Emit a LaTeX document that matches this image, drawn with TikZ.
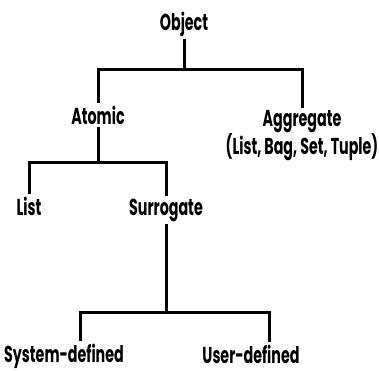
\documentclass[tikz,border=0pt]{standalone}
\usepackage{fontspec}
\setmainfont{Poppins}[FakeStretch=0.62]
\usetikzlibrary{positioning}

\begin{document}
\begin{tikzpicture}[x=1pt, y=-1pt,
  term/.style={font=\fontsize{23}{20}\selectfont\bfseries, inner xsep=2pt, inner ysep=4pt,
    anchor=base, align=center},
  tree/.style={line width=3pt, line cap=rect},
]
  \useasboundingbox (0,0) rectangle (379,370);

  % --- root and its two kinds ----------------------------------------
  \node[term] (obj) at (184,30) {Object};
  \node[term] (atom) at (98,124) {Atomic};
  \node[term, anchor=north] (aggr) at (302,106) {Aggregate\\(List, Bag, Set, Tuple)};
  \coordinate (j1) at (184,69);
  \draw[tree] (obj) -- (j1);
  \draw[tree] (atom) |- (j1) -| (aggr);

  % --- atomic objects ------------------------------------------------
  \node[term] (list) at (29,215) {List};
  \node[term] (surr) at (166,215) {Surrogate};
  \coordinate (j2) at (98,162);
  \draw[tree] (atom) -- (j2);
  \draw[tree] (list) |- (j2) -| (surr);

  % --- surrogates ----------------------------------------------------
  \node[term] (sysd) at (64,362) {System-defined};
  \node[term] (userd) at (251,363) {User-defined};
  \coordinate (j3) at (166,312);
  \draw[tree] (surr) -- (j3);
  \draw[tree] ([xshift=16pt]sysd.north) |- (j3) -| ([xshift=18pt]userd.north);
\end{tikzpicture}
\end{document}
